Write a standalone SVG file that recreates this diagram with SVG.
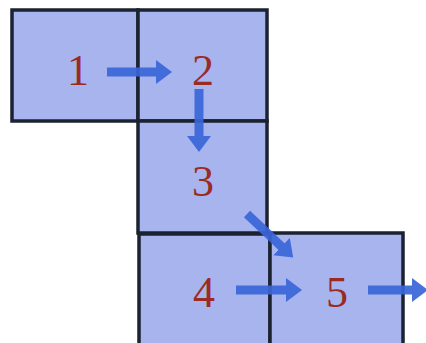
<svg xmlns="http://www.w3.org/2000/svg" width="426" height="343" viewBox="0 0 426 343">
<style>
.box{fill:#a8b4ee;stroke:#1b2230;stroke-width:3.5}
.lbl{font-family:"Liberation Serif","DejaVu Serif",serif;font-size:44px;fill:#9a2b22;text-anchor:middle}
.arr{stroke:#3a66d8;stroke-width:9;fill:none;opacity:0.92}
</style>
<defs>
<marker id="ah" markerUnits="userSpaceOnUse" markerWidth="16" markerHeight="24" refX="2" refY="12" orient="auto">
<path d="M0,0 L16,12 L0,24 Z" fill="#3a66d8"/>
</marker>
</defs>
<rect width="426" height="343" fill="#ffffff"/>
<g id="node1"><rect class="box" x="12" y="10" width="126" height="111"/><text class="lbl" x="78" y="85">1</text></g>
<g id="node2"><rect class="box" x="138" y="10" width="129" height="111"/><text class="lbl" x="203" y="85">2</text></g>
<g id="node3"><rect class="box" x="138" y="121" width="129" height="112"/><text class="lbl" x="203" y="196">3</text></g>
<g id="node4"><rect class="box" x="139" y="234" width="131" height="115"/><text class="lbl" x="204" y="307">4</text></g>
<g id="node5"><rect class="box" x="270" y="233" width="133" height="116"/><text class="lbl" x="337" y="307">5</text></g>
<g id="connectors">
<line class="arr" x1="107" y1="72" x2="158" y2="72" marker-end="url(#ah)"/>
<line class="arr" x1="199" y1="89" x2="199" y2="138" marker-end="url(#ah)"/>
<line class="arr" x1="247" y1="214" x2="283" y2="248" marker-end="url(#ah)"/>
<line class="arr" x1="236" y1="290" x2="288" y2="290" marker-end="url(#ah)"/>
<line class="arr" x1="368" y1="290" x2="414" y2="290" marker-end="url(#ah)"/>
</g>
</svg>
